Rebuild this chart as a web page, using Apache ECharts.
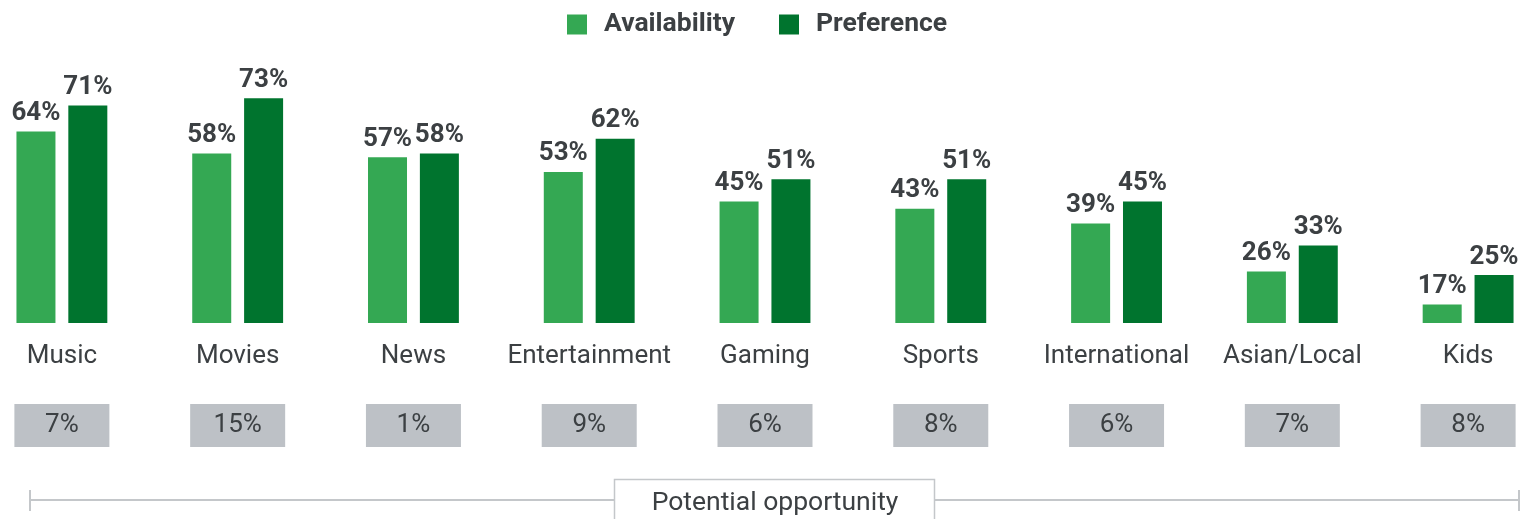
<!DOCTYPE html>
<html>
<head>
<meta charset="utf-8">
<script src="https://cdn.jsdelivr.net/npm/echarts@6/dist/echarts.min.js"></script>
<style>html,body{margin:0;padding:0;background:#fff;overflow:hidden;width:1528px;height:519px}#c{width:1582px;height:519px;margin-left:-26px}</style>
</head>
<body>
<div id="c"></div>
<script>
const categories = ['Music','Movies','News','Entertainment','Gaming','Sports','International','Asian/Local','Kids'];
const availability = [64,58,57,53,45,43,39,26,17];
const preference = [71,73,58,62,51,51,45,33,25];
const opportunity = [7,15,1,9,6,8,6,7,8];
const seriesNames = ['Availability','Preference'];
const bracketTitle = 'Potential opportunity';

const txt = '#3c4043';
const font = 'Roboto, "Noto Sans", sans-serif';
const OX = 26; // container is shifted left by this many px
const chart = echarts.init(document.getElementById('c'));
chart.setOption({
  animation:false,
  textStyle:{fontFamily:font},
  legend:{
    data:seriesNames, top:6, left:OX + 562, icon:'rect', itemWidth:20, itemHeight:20, itemGap:44,
    textStyle:{fontSize:26.5, fontWeight:'bold', color:txt, fontFamily:font, padding:[0,0,0,12]}
  },
  grid:{left:0, right:0, top:54, bottom:196, containLabel:false},
  xAxis:[{
    type:'category', data:categories, position:'bottom',
    axisLine:{show:false}, axisTick:{show:false},
    axisLabel:{fontSize:26, color:txt, margin:20, fontFamily:font, interval:0}
  },{
    type:'category', data:opportunity.map(v=>v+'%'), position:'bottom',
    axisLine:{show:false}, axisTick:{show:false},
    axisLabel:{fontSize:26, color:txt, margin:81, fontFamily:font, interval:0,
      backgroundColor:'#bdc1c6', width:95, height:43, lineHeight:43, align:'center', verticalAlign:'top'}
  }],
  yAxis:{type:'value', min:12, max:85, show:false, splitLine:{show:false}},
  series:[{
    name:seriesNames[0], type:'bar', data:availability, barWidth:39, barGap:'33%',
    itemStyle:{color:'#34a853'},
    label:{show:true, position:'top', distance:5, formatter:'{c}%', fontSize:26, fontWeight:'bold', color:txt, fontFamily:font}
  },{
    name:seriesNames[1], type:'bar', data:preference, barWidth:39, barGap:'33%',
    itemStyle:{color:'#00742e'},
    label:{show:true, position:'top', distance:5, formatter:'{c}%', fontSize:26, fontWeight:'bold', color:txt, fontFamily:font}
  }],
  graphic:[
    {type:'line', shape:{x1:OX+30,y1:500,x2:OX+1519,y2:500}, style:{stroke:'#c4c7ca', lineWidth:2}},
    {type:'line', shape:{x1:OX+30,y1:490,x2:OX+30,y2:511}, style:{stroke:'#c4c7ca', lineWidth:2}},
    {type:'line', shape:{x1:OX+1519,y1:490,x2:OX+1519,y2:511}, style:{stroke:'#c4c7ca', lineWidth:2}},
    {type:'rect', shape:{x:OX+614.5,y:479.5,width:320,height:60}, style:{fill:'#fff', stroke:'#c4c7ca', lineWidth:1.5}},
    {type:'text', x:OX+775, y:503, style:{text:bracketTitle, fontSize:26.5, fill:txt, fontFamily:font, align:'center', verticalAlign:'middle'}}
  ]
});
</script>
</body>
</html>
